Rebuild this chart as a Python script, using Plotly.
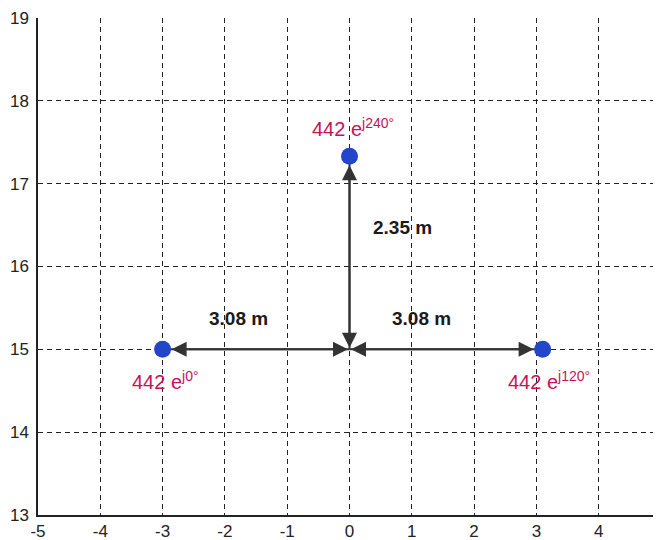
import plotly.graph_objects as go

# Data
center = (0.0, 15.0)
point_x = [-3.0, 3.1, 0.0]
point_y = [15.0, 15.0, 17.33]
point_labels = ["442 e<sup>j0°</sup>", "442 e<sup>j120°</sup>", "442 e<sup>j240°</sup>"]
dist_labels = ["3.08 m", "3.08 m", "2.35 m"]
x_ticks = [-5, -4, -3, -2, -1, 0, 1, 2, 3, 4, 5]
x_tick_labels = ["-5", "-4", "-3", "-2", "-1", "0", "1", "2", "3", "4", "5"]
y_ticks = [13, 14, 15, 16, 17, 18, 19]
y_tick_labels = ["13", "14", "15", "16", "17", "18", "19"]

fig = go.Figure()

# lines (shafts) from center to each point
for px, py in zip(point_x, point_y):
    fig.add_trace(go.Scatter(x=[center[0], px], y=[center[1], py], mode="lines",
                             line=dict(color="#333333", width=2), hoverinfo="skip",
                             showlegend=False))

fig.add_trace(go.Scatter(x=point_x, y=point_y, mode="markers",
                         marker=dict(color="#2346c8", size=17, line=dict(width=0)),
                         showlegend=False))

annotations = []
# double arrowheads
for px, py in zip(point_x, point_y):
    annotations.append(dict(x=px, y=py, ax=center[0], ay=center[1], xref="x", yref="y",
                            axref="x", ayref="y", text="", showarrow=True,
                            arrowhead=2, arrowsize=1.5, arrowwidth=2,
                            startarrowhead=2, startarrowsize=1.5,
                            arrowside="end+start", arrowcolor="#333333",
                            standoff=9, startstandoff=0))

label_color = "#c4125a"
label_shift = [(3, -31), (6, -31), (3, 29)]
for px, py, lab, (dx, dy) in zip(point_x, point_y, point_labels, label_shift):
    annotations.append(dict(x=px, y=py, xref="x", yref="y", text=lab, showarrow=False,
                            xshift=dx, yshift=dy,
                            font=dict(family="Liberation Sans, Arial", size=20, color=label_color)))

dist_pos = [((point_x[0] + center[0]) / 2, center[1], -18, 31),
            ((point_x[1] + center[0]) / 2, center[1], -25, 31),
            (center[0], (point_y[2] + center[1]) / 2, 53, 25)]
for (mx, my, dx, dy), lab in zip(dist_pos, dist_labels):
    annotations.append(dict(x=mx, y=my, xref="x", yref="y", text="<b>" + lab + "</b>",
                            showarrow=False, xshift=dx, yshift=dy,
                            font=dict(family="Liberation Sans, Arial", size=19, color="#1a1a1a")))

# page body has an 8px margin, so the figure is sized and offset to compensate
fig.update_layout(
    width=653, height=532,
    margin=dict(l=30, r=0, t=10, b=25, autoexpand=False),
    paper_bgcolor="white", plot_bgcolor="white",
    annotations=annotations,
    font=dict(family="Liberation Sans, Arial", size=17, color="#222222"),
)
fig.update_xaxes(range=[-5, 5], tickvals=x_ticks, ticktext=x_tick_labels, showgrid=True,
                 gridcolor="#222222", gridwidth=1.3, griddash="5px,4px", showline=True,
                 linecolor="#222222", linewidth=1.5, zeroline=False, ticks="",
                 ticklabelstandoff=0, automargin=False)
fig.update_yaxes(range=[13, 19], tickvals=y_ticks, ticktext=y_tick_labels, showgrid=True,
                 gridcolor="#222222", gridwidth=1.3, griddash="5px,4px", showline=True,
                 linecolor="#222222", linewidth=1.5, zeroline=False, ticks="",
                 ticklabelstandoff=4, automargin=False)

fig.write_html("out.html")
